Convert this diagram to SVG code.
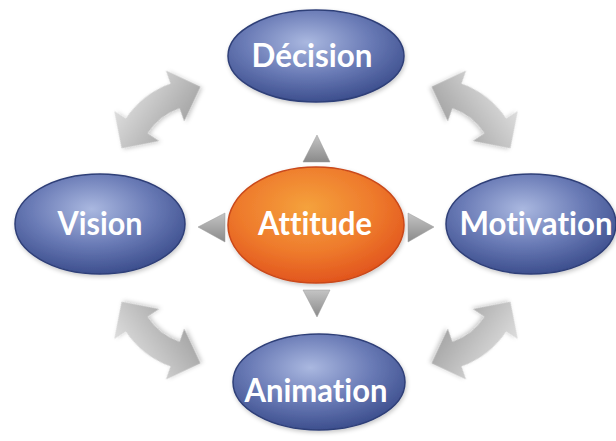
<svg xmlns="http://www.w3.org/2000/svg" width="616" height="441" viewBox="0 0 616 441">
<defs>
<radialGradient id="blue" cx="0.45" cy="0.35" r="0.65">
<stop offset="0" stop-color="#aab8e0"/>
<stop offset="0.55" stop-color="#6a7bb6"/>
<stop offset="1" stop-color="#3d4f8e"/>
</radialGradient>
<radialGradient id="orange" cx="0.45" cy="0.35" r="0.65">
<stop offset="0" stop-color="#f5a23c"/>
<stop offset="0.6" stop-color="#ee7a2c"/>
<stop offset="1" stop-color="#e2561e"/>
</radialGradient>
<linearGradient id="gray" x1="0" y1="0" x2="0.6" y2="1">
<stop offset="0" stop-color="#e2e2e2"/>
<stop offset="1" stop-color="#a9a9a9"/>
</linearGradient>
<linearGradient id="tri" x1="0" y1="0" x2="0" y2="1">
<stop offset="0" stop-color="#c4c4c4"/>
<stop offset="1" stop-color="#8a8a8a"/>
</linearGradient>
<filter id="sh" x="-20%" y="-20%" width="140%" height="150%">
<feDropShadow dx="1" dy="2" stdDeviation="2" flood-color="#000" flood-opacity="0.22"/>
</filter>
<path id="dbl" d="M-50,0 L-16,17.2 L-20.4,4 Q0,-3 20.4,4 L16,17.2 L50,0 L32.8,-34 L28.4,-20.8 Q0,-30 -28.4,-20.8 L-32.8,-34 Z"/>
</defs>
<style>
.blue{fill:url(#blue);stroke:#2f3f78;stroke-width:1.5;filter:url(#sh)}
.orange{fill:url(#orange);stroke:#c9481a;stroke-width:1.5;filter:url(#sh)}
.lbl{font-family:Lato,"Open Sans","Liberation Sans",sans-serif;font-weight:bold;font-size:32px;fill:#ffffff;text-anchor:middle;font-variant-ligatures:none;font-feature-settings:"liga" 0,"dlig" 0}
.arr{fill:url(#gray);filter:url(#sh)}
.tri{fill:url(#tri);stroke:#9a9a9a;stroke-width:0.5}
</style>
<g id="connectors">
<use href="#dbl" class="arr" transform="translate(161,117.5) rotate(-38)"/>
<use href="#dbl" class="arr" transform="translate(471,117.5) rotate(38) scale(-1,1)"/>
<use href="#dbl" class="arr" transform="translate(161,332.5) rotate(38) scale(1,-1)"/>
<use href="#dbl" class="arr" transform="translate(471,332.5) rotate(-38) scale(-1,-1)"/>
<polygon class="tri" points="317,135 330,162 303,162"/>
<polygon class="tri" points="317,317 330,290 303,290"/>
<polygon class="tri" points="198,227 225,213 225,242"/>
<polygon class="tri" points="434,227 408,213 408,242"/>
</g>
<g id="decision">
<ellipse class="blue" cx="316" cy="56" rx="88" ry="46"/>
<text class="lbl" x="312" y="67" textLength="121" lengthAdjust="spacingAndGlyphs">Décision</text>
</g>
<g id="attitude">
<ellipse class="orange" cx="316" cy="225" rx="88" ry="58"/>
<text class="lbl" x="315" y="235" textLength="114" lengthAdjust="spacingAndGlyphs">Attitude</text>
</g>
<g id="vision">
<ellipse class="blue" cx="100" cy="224" rx="85" ry="50"/>
<text class="lbl" x="100" y="235" textLength="85" lengthAdjust="spacingAndGlyphs">Vision</text>
</g>
<g id="motivation">
<ellipse class="blue" cx="531" cy="224" rx="85" ry="50"/>
<text class="lbl" x="536" y="235" textLength="153" lengthAdjust="spacingAndGlyphs">Motivation</text>
</g>
<g id="animation">
<ellipse class="blue" cx="319" cy="382" rx="86" ry="48"/>
<text class="lbl" x="316" y="402" textLength="143" lengthAdjust="spacingAndGlyphs">Animation</text>
</g>
</svg>
